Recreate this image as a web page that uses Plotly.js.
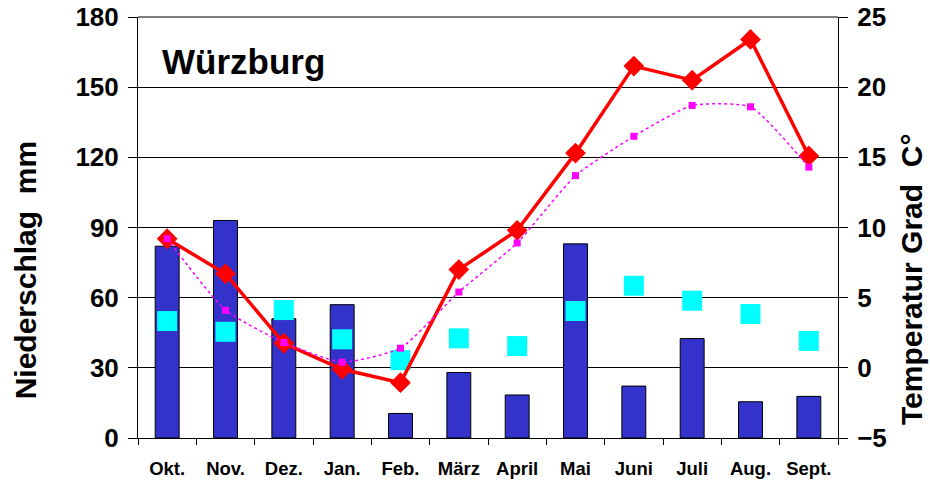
<!DOCTYPE html>
<html>
<head>
<meta charset="utf-8">
<script src="https://cdn.plot.ly/plotly-3.0.1.min.js"></script>
<style>html,body{margin:0;padding:0;background:#fff;}#chart{width:930px;height:483px;}</style>
</head>
<body>
<div id="chart"></div>
<script>
const months = ["Okt.","Nov.","Dez.","Jan.","Feb.","März","April","Mai","Juni","Juli","Aug.","Sept."];
const precip = [82, 93, 51, 57, 10.5, 28, 18.4, 83, 22.2, 42.5, 15.5, 17.8];
const precipAvg = [50, 45.4, 54.7, 42.2, 33.3, 42.6, 39.3, 54.3, 65.1, 58.7, 53, 41.5];
const temp = [9.2, 6.7, 1.75, -0.1, -1.06, 7.0, 9.8, 15.3, 21.5, 20.5, 23.4, 15.1];
const tempAvg = [9.2, 4.1, 1.8, 0.4, 1.4, 5.4, 8.9, 13.7, 16.5, 18.7, 18.6, 14.3];
const leftTicks = [0, 30, 60, 90, 120, 150, 180];
const rightTicks = [-5, 0, 5, 10, 15, 20, 25];

const FONT = "Liberation Sans, Arial, sans-serif";
const bold = (size) => ({family:FONT, size:size, color:"#000", weight:"bold"});

const traces = [
  {type:"bar", x:months, y:precip, yaxis:"y", width:0.41,
   marker:{color:"#3333cc", line:{color:"#000", width:1}}},
  {type:"scatter", mode:"markers", x:months, y:precipAvg, yaxis:"y",
   marker:{symbol:"square", size:20, color:"#00ffff"}},
  {type:"scatter", mode:"lines+markers", x:months, y:temp, yaxis:"y2",
   line:{color:"#ff0000", width:3.5}, marker:{symbol:"diamond", size:16, color:"#ff0000"}},
  {type:"scatter", mode:"lines+markers", x:months, y:tempAvg, yaxis:"y2",
   line:{color:"#ff00ff", width:1.5, dash:"dot", shape:"spline", smoothing:0.5},
   marker:{symbol:"square", size:7, color:"#ff00ff"}}
];

const layout = {
  width:930, height:483,
  margin:{l:138, r:92, t:17, b:45},
  paper_bgcolor:"#fff", plot_bgcolor:"#fff",
  showlegend:false,
  font:{family:FONT, color:"#000"},
  xaxis:{type:"category", tickson:"boundaries", ticks:"outside", ticklen:6, tickcolor:"#000",
    showline:true, linecolor:"#000", linewidth:1, showgrid:false, ticklabelstandoff:14,
    tickfont:bold(18.5), range:[-0.5, 11.5]},
  yaxis:{range:[0,180], tickvals:leftTicks, ticks:"outside", ticklen:9, tickcolor:"#000",
    showline:true, linecolor:"#000", linewidth:1, showgrid:true, gridcolor:"#000", gridwidth:1,
    zeroline:false, tickfont:bold(26), ticklabelstandoff:4},
  yaxis2:{range:[-5,25], tickvals:rightTicks, overlaying:"y", side:"right", ticks:"outside", ticklen:9,
    tickcolor:"#000", showline:true, linecolor:"#000", linewidth:1, showgrid:false, zeroline:false,
    tickfont:bold(26), ticklabelstandoff:4},
  annotations:[
    {text:"Würzburg", xref:"paper", yref:"paper", x:0.031, y:0.895, xanchor:"left", yanchor:"middle",
     showarrow:false, font:bold(35)},
    {text:"Niederschlag  mm", xref:"paper", yref:"paper", x:-0.161, y:0.399, textangle:-90,
     xanchor:"center", yanchor:"middle", showarrow:false, font:bold(30)},
    {text:"Temperatur Grad  C°", xref:"paper", yref:"paper", x:1.106, y:0.378, textangle:-90,
     xanchor:"center", yanchor:"middle", showarrow:false, font:bold(30)}
  ],
  shapes:[
    {type:"line", xref:"paper", yref:"paper", x0:0, x1:1, y0:1, y1:1, line:{color:"#000", width:1}}
  ]
};

Plotly.newPlot("chart", traces, layout, {staticPlot:true});
</script>
</body>
</html>
